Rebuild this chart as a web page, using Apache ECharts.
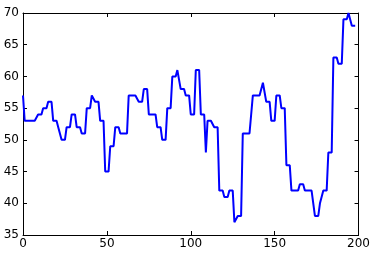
<!DOCTYPE html>
<html>
<head>
<meta charset="utf-8">
<script src="https://cdn.jsdelivr.net/npm/echarts@6/dist/echarts.min.js"></script>
<style>
html,body{margin:0;padding:0;background:#fff;}
#c{width:373px;height:256px;}
</style>
</head>
<body>
<div id="c"></div>
<script>
var values = [57,
53,53,53,53,53,53,53,53,
54,54,54,
55,55,55,
56,56,56,
53,53,53,
52,52,
50,50,50,
52,52,52,
54,54,54,
52,52,52,
51,51,51,
55,55,55,
57,57,
56,56,56,
53,53,53,
45,45,45,
49,49,49,
52,52,52,
51,51,51,51,51,
57,57,57,57,57,57,
56,56,56,
58,58,58,
54,54,54,54,54,
52,52,52,
50,50,50,
55,55,55,
60,60,60,
61,61,
58,58,58,
57,57,57,
54,54,54,
61,61,61,
54,54,54,
48,
53,53,53,53,
52,52,52,
42,42,42,
41,41,41,
42,42,42,
37,37,
38,38,38,
51,51,51,51,51,51,
57,57,57,57,57,57,
59,59,
56,56,56,
53,53,53,
57,57,57,
55,55,55,
46,46,46,
42,42,42,42,42,
43,43,43,
42,42,42,42,42,42,
38,38,38,
40,40,
42,42,42,
48,48,48,
63,63,63,
62,62,62,
69,69,69,
70,70,
68,68,68];

var xTicks = [0, 50, 100, 150, 200];
var yTicks = [35, 40, 45, 50, 55, 60, 65, 70];

var seriesData = values.map(function (v, i) { return [i, v]; });

var font = 'DejaVu Sans';
var xMin = xTicks[0], xMax = xTicks[xTicks.length - 1], xInt = xTicks[1] - xTicks[0];
var yMin = yTicks[0], yMax = yTicks[yTicks.length - 1], yInt = yTicks[1] - yTicks[0];

function xAx(pos, showLabel) {
  return {
    type: 'value', position: pos, min: xMin, max: xMax, interval: xInt,
    axisLine: { show: true, onZero: false, lineStyle: { color: '#000', width: 1 } },
    axisTick: { show: true, inside: true, length: 4, lineStyle: { color: '#000' } },
    axisLabel: { show: showLabel, color: '#000', fontFamily: font, fontSize: 12, margin: 3 },
    splitLine: { show: false }
  };
}
function yAx(pos, showLabel) {
  return {
    type: 'value', position: pos, min: yMin, max: yMax, interval: yInt,
    axisLine: { show: true, onZero: false, lineStyle: { color: '#000', width: 1 } },
    axisTick: { show: true, inside: true, length: 4, lineStyle: { color: '#000' } },
    axisLabel: { show: showLabel, color: '#000', fontFamily: font, fontSize: 12, margin: 4 },
    splitLine: { show: false }
  };
}

var chart = echarts.init(document.getElementById('c'), null, { renderer: 'canvas' });
chart.setOption({
  animation: false,
  backgroundColor: '#fff',
  grid: { left: 23, right: 14, top: 13, bottom: 21, containLabel: false },
  xAxis: [xAx('bottom', true), xAx('top', false)],
  yAxis: [yAx('left', true), yAx('right', false)],
  series: [{
    type: 'line',
    data: seriesData,
    showSymbol: false,
    symbol: 'none',
    lineStyle: { color: '#0000ff', width: 2 },
    z: 1
  }]
});
</script>
</body>
</html>
